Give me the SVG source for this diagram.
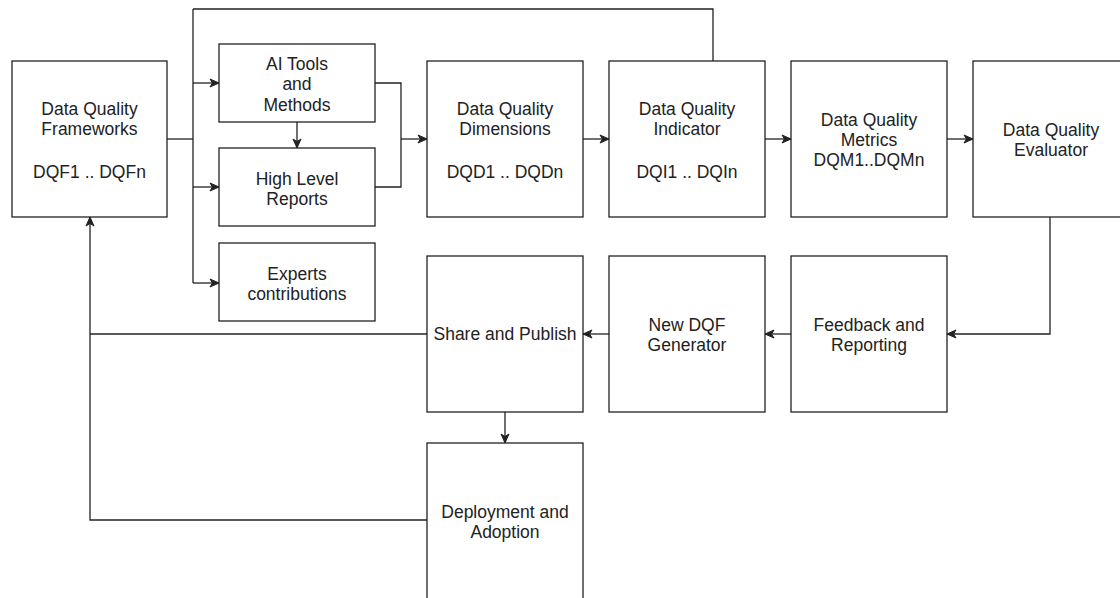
<svg xmlns="http://www.w3.org/2000/svg" width="1120" height="598" viewBox="0 0 1120 598">
<defs>
<style>
.box{fill:#fff;stroke:#222;stroke-width:1.3}
.t{font-family:"Liberation Sans",Arial,Helvetica,sans-serif;font-size:17.5px;fill:#222;text-anchor:middle}
.c{fill:none;stroke:#222;stroke-width:1.3}
.a{marker-end:url(#arr)}
</style>
<marker id="arr" markerUnits="userSpaceOnUse" markerWidth="12" markerHeight="10" refX="10" refY="5" orient="auto">
<path d="M1,1 L10,5 L1,9 L3.5,5 Z" fill="#222" stroke="#222" stroke-width="1"/>
</marker>
</defs>
<rect width="1120" height="598" fill="#fff"/>
<g id="connectors">
<path class="c" d="M167,139 H193"/>
<path class="c" d="M193,9 V283"/>
<path class="c" d="M193,9 H713 V61"/>
<path class="c a" d="M193,83 H219"/>
<path class="c a" d="M193,187 H219"/>
<path class="c a" d="M193,283 H219"/>
<path class="c a" d="M297,122 V148"/>
<path class="c" d="M375,83 H401 V187 H375"/>
<path class="c a" d="M401,139 H427"/>
<path class="c a" d="M583,139 H609"/>
<path class="c a" d="M765,139 H791"/>
<path class="c a" d="M947,139 H973"/>
<path class="c a" d="M1050,217 V334 H947"/>
<path class="c a" d="M791,334 H765"/>
<path class="c a" d="M609,334 H583"/>
<path class="c a" d="M505,412 V443"/>
<path class="c" d="M427,334 H90"/>
<path class="c a" d="M427,520 H90 V217"/>
</g>
<g id="dqf"><rect class="box" x="12" y="61" width="155" height="156"/>
<text class="t" x="89.5" y="115">Data Quality</text><text class="t" x="89.5" y="135">Frameworks</text><text class="t" x="89.5" y="178">DQF1 .. DQFn</text></g>
<g id="ai-tools"><rect class="box" x="219" y="44" width="156" height="78"/>
<text class="t" x="297" y="70">AI Tools</text><text class="t" x="297" y="90">and</text><text class="t" x="297" y="111">Methods</text></g>
<g id="high-level"><rect class="box" x="219" y="148" width="156" height="78"/>
<text class="t" x="297" y="185">High Level</text><text class="t" x="297" y="205">Reports</text></g>
<g id="experts"><rect class="box" x="219" y="243" width="156" height="78"/>
<text class="t" x="297" y="280">Experts</text><text class="t" x="297" y="300">contributions</text></g>
<g id="dimensions"><rect class="box" x="427" y="61" width="156" height="156"/>
<text class="t" x="505" y="115">Data Quality</text><text class="t" x="505" y="135">Dimensions</text><text class="t" x="505" y="178">DQD1 .. DQDn</text></g>
<g id="indicator"><rect class="box" x="609" y="61" width="156" height="156"/>
<text class="t" x="687" y="115">Data Quality</text><text class="t" x="687" y="135">Indicator</text><text class="t" x="687" y="178">DQI1 .. DQIn</text></g>
<g id="metrics"><rect class="box" x="791" y="61" width="156" height="156"/>
<text class="t" x="869" y="126">Data Quality</text><text class="t" x="869" y="146">Metrics</text><text class="t" x="869" y="166">DQM1..DQMn</text></g>
<g id="evaluator"><rect class="box" x="973" y="61" width="156" height="156"/>
<text class="t" x="1051" y="136">Data Quality</text><text class="t" x="1051" y="156">Evaluator</text></g>
<g id="feedback"><rect class="box" x="791" y="256" width="156" height="156"/>
<text class="t" x="869" y="331">Feedback and</text><text class="t" x="869" y="351">Reporting</text></g>
<g id="new-dqf"><rect class="box" x="609" y="256" width="156" height="156"/>
<text class="t" x="687" y="331">New DQF</text><text class="t" x="687" y="351">Generator</text></g>
<g id="share"><rect class="box" x="427" y="256" width="156" height="156"/>
<text class="t" x="505" y="340">Share and Publish</text></g>
<g id="deployment"><rect class="box" x="427" y="443" width="156" height="156"/>
<text class="t" x="505" y="518">Deployment and</text><text class="t" x="505" y="538">Adoption</text></g>
</svg>
